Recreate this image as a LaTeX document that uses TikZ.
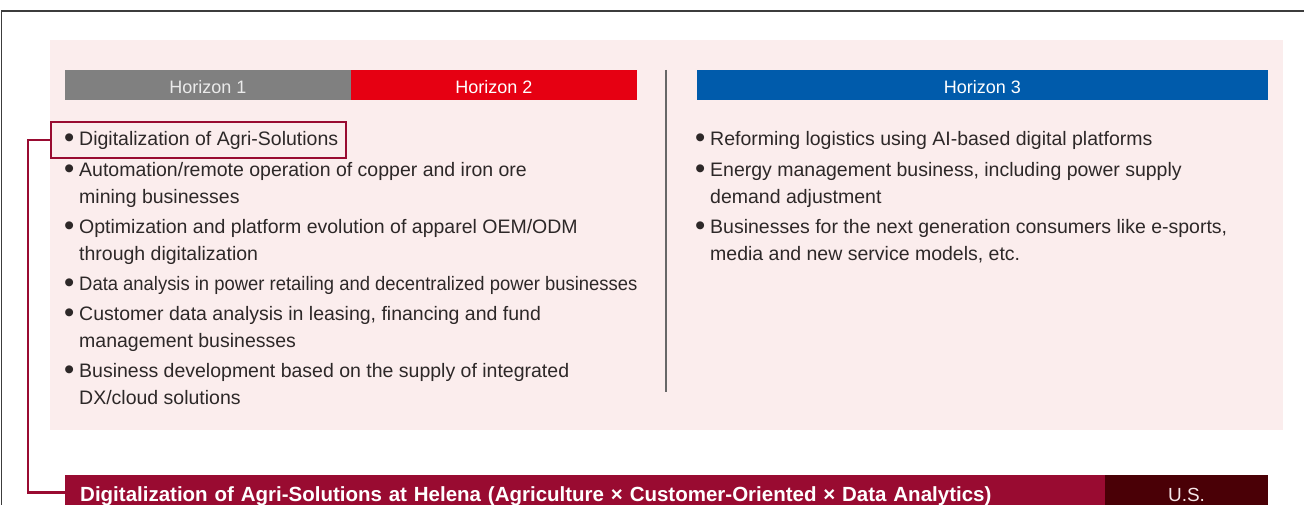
\documentclass[tikz,border=0pt]{standalone}
\usepackage{fontspec}
\setmainfont{Liberation Sans}
\usepackage{graphicx}
\usepackage{tikz}
\usetikzlibrary{calc}
\definecolor{panelpink}{RGB}{251,237,237}
\definecolor{hgray}{RGB}{128,128,128}
\definecolor{hred}{RGB}{230,0,18}
\definecolor{hblue}{RGB}{0,91,171}
\definecolor{helena}{RGB}{153,11,49}
\definecolor{usdark}{RGB}{74,0,6}
\definecolor{bodytext}{RGB}{45,40,40}
\definecolor{framegray}{RGB}{60,60,60}
\tikzset{
    hbar/.style={minimum height=30, inner sep=0pt, text height=16.5, text depth=0pt, text=white, font=\fontsize{18}{20}\selectfont},
    item/.style={anchor=base west, align=left, inner sep=0pt, text=bodytext, font=\fontsize{19.5}{27}\selectfont},
    link/.style={helena, line width=2.5},
    lowbar/.style={minimum height=35, inner ysep=0pt, text height=18.5, text depth=0pt, text=white},
}
\newcommand{\bul}{\makebox[15pt][l]{\raisebox{-2pt}{\scalebox{1.5}{\textbullet}}}}
\newcommand{\cont}{\hspace*{15pt}}

\begin{document}
\begin{tikzpicture}[x=1pt, y=-1pt]
            \useasboundingbox (0,0) rectangle (1304,505);
            \clip (0,0) rectangle (1304,505);
            \draw[framegray, line width=1.5] (1.5,540) -- (1.5,11) -- (1340,11);
            \fill[panelpink] (50,40) rectangle (1283,430);
            \node[hbar, fill=hgray, text={rgb,255:red,235;green,235;blue,235}, minimum width=286] (hone) at (208,85) {Horizon 1};
            \node[hbar, fill=hred, minimum width=286] (htwo) at (494,85) {Horizon 2};
            \node[hbar, fill=hblue, minimum width=571] (hthree) at (982.5,85) {Horizon 3};
            \draw[hgray!80!black, line width=1.2] (666,70) -- (666,392);
            \node[draw=helena, line width=2, minimum width=295, minimum height=36, inner sep=0pt, anchor=north west] (agribox) at (50,121) {};
            \node[item] (hone-a) at (64,145.5) {\bul Digitalization of Agri-Solutions};
            \node[item] (hone-b) at (64,203.5) {\bul Automation/remote operation of copper and iron ore\\\cont mining businesses};
            \node[item] (hone-c) at (64,260.5) {\bul Optimization and platform evolution of apparel OEM/ODM\\\cont through digitalization};
            \node[item] (hone-d) at (64,290.5) {\bul \scalebox{0.945}[1]{Data analysis in power retailing and decentralized power businesses}};
            \node[item] (hone-e) at (64,347.5) {\bul Customer data analysis in leasing, financing and fund\\\cont management businesses};
            \node[item] (hone-f) at (64,404.5) {\bul Business development based on the supply of integrated\\\cont DX/cloud solutions};
            \node[item] (hthree-a) at (695,145.5) {\bul Reforming logistics using AI-based digital platforms};
            \node[item] (hthree-b) at (695,203.5) {\bul Energy management business, including power supply\\\cont demand adjustment};
            \node[item] (hthree-c) at (695,260.5) {\bul Businesses for the next generation consumers like e-sports,\\\cont media and new service models, etc.};
            \node[lowbar, fill=helena, anchor=west, text width=1010, inner xsep=15, align=left, font=\bfseries\fontsize{20.5}{22}\selectfont] (helenabar) at (65,492.5) {Digitalization of Agri-Solutions at Helena (Agriculture × Customer-Oriented × Data Analytics)};
            \node[lowbar, fill=usdark, minimum width=163, inner xsep=0pt, text={rgb,255:red,245;green,230;blue,232}, font=\fontsize{19}{22}\selectfont] (usbar) at (1186.5,492.5) {U.S.};
            \draw[link] (agribox.west) -- ++(-22,0) |- (helenabar.west);
        \end{tikzpicture}
\end{document}
